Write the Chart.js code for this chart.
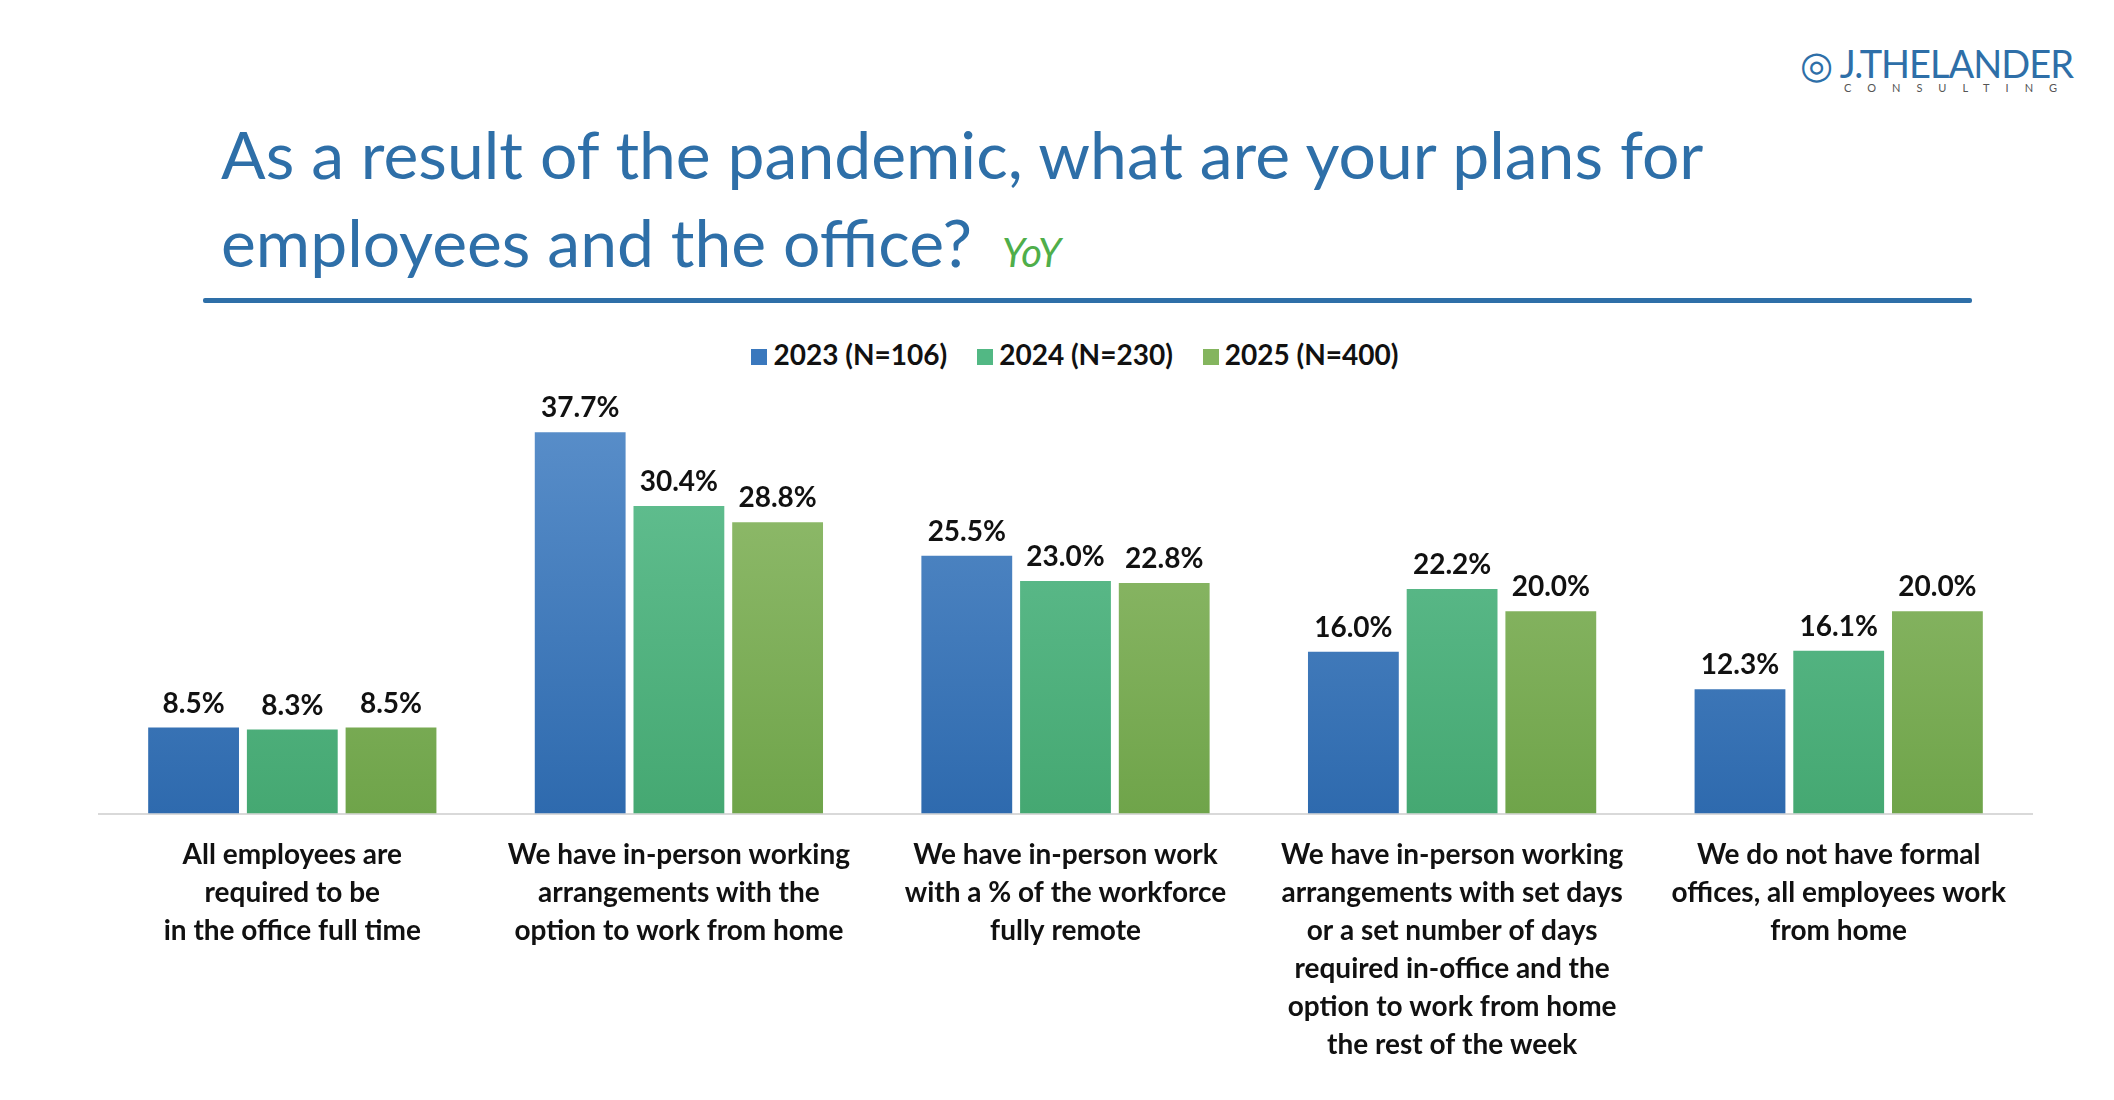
<!DOCTYPE html>
<html><head><meta charset="utf-8">
<script src="https://cdn.jsdelivr.net/npm/chart.js@4/dist/chart.umd.min.js"></script>
<style>
body{margin:0;width:2114px;height:1100px;background:#fff;overflow:hidden;font-family:Lato,sans-serif;position:relative}
#t{position:absolute;left:221px;top:110px;color:#2e6fa8;font-size:66px;line-height:88px;}
#t i{color:#4fae4a;font-size:40px;margin-left:30px}
#rule{position:absolute;left:203px;top:298px;width:1769px;height:5px;background:#2e6fa8;border-radius:2px}
#logo{position:absolute;left:1800px;top:40px;color:#2e6fa8}
#logo .a{font-size:38px;letter-spacing:-1px}
#logo .b{font-size:11px;letter-spacing:16px;margin-left:44px;color:#555;margin-top:-6px}
#lg{position:absolute;top:337px;left:0;width:2150px;text-align:center;font-weight:bold;font-size:28px;color:#111}
#lg span{margin:0 15px}
#lg b{display:inline-block;width:16px;height:16px;margin-right:6px}
canvas{position:absolute;left:0;top:0}
</style></head><body>
<div id="logo"><div class="a">◎ J.THELANDER</div><div class="b">CONSULTING</div></div>
<div id="t">As a result of the pandemic, what are your plans for<br>employees and the office?<i>YoY</i></div>
<div id="rule"></div>
<div id="lg"><span><b style="background:#3a78bd"></b>2023 (N=106)</span><span><b style="background:#52b884"></b>2024 (N=230)</span><span><b style="background:#84b55e"></b>2025 (N=400)</span></div>
<div style="position:absolute;left:0;top:0;width:2114px;height:1100px"><canvas id="c" width="2114" height="1100"></canvas></div>
<script>
const categories=[
 ["All employees are","required to be","in the office full time"],
 ["We have in-person working","arrangements with the","option to work from home"],
 ["We have in-person work","with a % of the workforce","fully remote"],
 ["We have in-person working","arrangements with set days","or a set number of days","required in-office and the","option to work from home","the rest of the week"],
 ["We do not have formal","offices, all employees work","from home"]];
const seriesNames=["2023 (N=106)","2024 (N=230)","2025 (N=400)"];
const v2023=[8.5,37.7,25.5,16.0,12.3];
const v2024=[8.3,30.4,23.0,22.2,16.1];
const v2025=[8.5,28.8,22.8,20.0,20.0];
const cols=[["#5a8fca","#2e6aae"],["#66c295","#45a872"],["#96bf72","#6fa44a"]];
function grad(i){return ctx=>{const c=ctx.chart,a=c.chartArea;if(!a)return cols[i][1];
 const g=c.ctx.createLinearGradient(0,a.top,0,a.bottom);g.addColorStop(0,cols[i][0]);g.addColorStop(1,cols[i][1]);return g;}}
const lbl={id:'lbl',afterDatasetsDraw(ch){const x=ch.ctx;x.save();x.font='bold 28px Lato';x.fillStyle='#111';x.textAlign='center';x.textBaseline='bottom';
 ch.data.datasets.forEach((d,i)=>ch.getDatasetMeta(i).data.forEach((b,j)=>x.fillText(d.data[j].toFixed(1)+'%',b.x,b.y-10)));x.restore();}};
new Chart(document.getElementById('c'),{type:'bar',
 data:{labels:categories,datasets:[v2023,v2024,v2025].map((d,i)=>({label:seriesNames[i],data:d,backgroundColor:grad(i),categoryPercentage:0.766,barPercentage:0.92}))},
 options:{responsive:false,animation:false,layout:{padding:{left:99,right:82,top:409,bottom:14}},
  plugins:{legend:{display:false},tooltip:{enabled:false}},
  scales:{y:{min:0,max:40,display:false},
   x:{grid:{display:false,drawTicks:false},border:{color:'#d9d9d9',width:2},
      ticks:{color:'#111',font:{family:'Lato',weight:'bold',size:28,lineHeight:1.36},padding:22,maxRotation:0,autoSkip:false}}}},
 plugins:[lbl]});
</script></body></html>
